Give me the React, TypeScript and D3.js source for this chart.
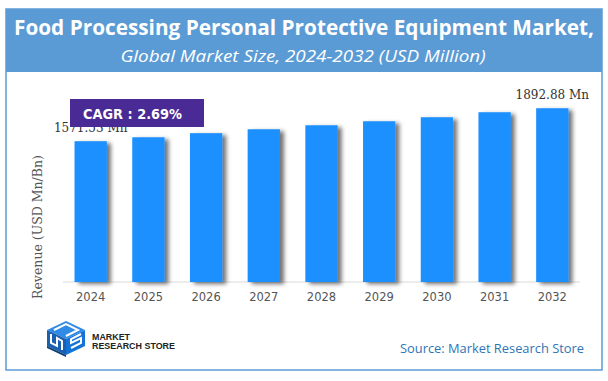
import React from 'react';
import * as d3 from 'd3';

const years = ['2024', '2025', '2026', '2027', '2028', '2029', '2030', '2031', '2032'];
const revenue = [1571.53, 1610, 1650, 1688, 1727, 1766, 1805, 1854, 1892.88];
const valueLabels = ['1571.53 Mn', '', '', '', '', '', '', '', '1892.88 Mn'];
const titleText = 'Food Processing Personal Protective Equipment Market,';
const subtitleText = 'Global Market Size, 2024-2032 (USD Million)';
const cagrText = 'CAGR :  2.69%';
const yAxisTitle = 'Revenue (USD Mn/Bn)';
const sourceText = 'Source: Market Research Store';

const W = 608;
const H = 381;

export default function App() {
  const x = d3.scaleBand<string>().domain(years).range([63, 580]).paddingInner(0.44).paddingOuter(0.2);
  const y = d3.scaleLinear().domain([200, 1900]).range([282, 107.5]);

  return (
    <svg width={W} height={H} style={{ position: 'absolute', left: 0, top: 0, background: '#fff' }}>
      <defs>
        <filter id="shadow" x="-20%" y="-10%" width="160%" height="130%">
          <feDropShadow dx="4" dy="2" stdDeviation="2" floodColor="#000" floodOpacity="0.55" />
        </filter>
        <linearGradient id="dashGrad" x1="0" x2="1" y1="0" y2="0">
          <stop offset="0" stopColor="#f08a3c" />
          <stop offset="0.35" stopColor="#f9c6a0" />
          <stop offset="0.7" stopColor="#f4a062" />
          <stop offset="1" stopColor="#f08a3c" />
        </linearGradient>
      </defs>
      <rect x={0} y={0} width={W} height={H} fill="#fff" />
      {/* frame */}
      <rect x={6} y={9} width={596} height={361} fill="#fff" stroke="#5b9bd5" strokeWidth={1.5} />
      <rect x={6} y={9} width={596} height={63} fill="#5b9bd5" />
      <text x={304} y={35} textAnchor="middle" fill="#fff" fontFamily="'Open Sans', 'Noto Sans', sans-serif" fontWeight="bold" fontSize={20.5} textLength={580} lengthAdjust="spacingAndGlyphs">{titleText}</text>
      <text x={303} y={62} textAnchor="middle" fill="#fff" fontFamily="'Open Sans', 'Noto Sans', sans-serif" fontStyle="italic" fontSize={16} textLength={365} lengthAdjust="spacingAndGlyphs">{subtitleText}</text>
      {/* dashed decorative line */}
      <line x1={42} x2={586} y1={79.5} y2={79.5} stroke="url(#dashGrad)" strokeWidth={1.2} strokeDasharray="3,2" />

      {/* axis line */}
      <line x1={63} x2={580} y1={282} y2={282} stroke="#d9d9d9" strokeWidth={1} />

      {/* bars */}
      {years.map((yr, i) => (
        <rect key={yr} x={x(yr)} y={y(revenue[i])} width={x.bandwidth()} height={282 - y(revenue[i])} fill="#1e90ff" filter="url(#shadow)" />
      ))}

      {/* x tick labels */}
      {years.map((yr) => (
        <text key={'t' + yr} x={(x(yr) as number) + x.bandwidth() / 2} y={301} textAnchor="middle" fill="#555" fontFamily="'DejaVu Sans', Verdana, sans-serif" fontSize={11.5}>{yr}</text>
      ))}

      {/* value labels */}
      {years.map((yr, i) => valueLabels[i] ? (
        <text key={'v' + yr} x={(x(yr) as number) + x.bandwidth() / 2} y={y(revenue[i]) - 9} textAnchor="middle" fill="#333" fontFamily="'DejaVu Serif', Georgia, serif" fontSize={12}>{valueLabels[i]}</text>
      ) : null)}

      {/* CAGR box */}
      <rect x={70} y={99} width={134} height={28} fill="#4a2a94" />
      <text x={83} y={119} fill="#fff" fontFamily="'DejaVu Sans', Tahoma, sans-serif" fontWeight="bold" fontSize={13.5} textLength={99} lengthAdjust="spacingAndGlyphs">{cagrText}</text>

      {/* y axis title */}
      <text transform="translate(42,227) rotate(-90)" textAnchor="middle" fill="#555" fontFamily="'DejaVu Serif', Georgia, serif" fontSize={12.5}>{yAxisTitle}</text>

      {/* logo */}
      <g>
        <polygon points="66,321 85,330 66,339 47,330" fill="#2f8be6" />
        <polygon points="47,330 66,339 66,355 47,346" fill="#1a5fb0" />
        <polygon points="66,339 85,330 85,346 66,355" fill="#1473d6" />
        <polyline points="54,330 66,324 78,330 66,336" fill="none" stroke="#fff" strokeWidth={2} />
        <polyline points="51,334 51,343 57,346 57,338 62,341 62,350" fill="none" stroke="#fff" strokeWidth={2} />
        <polyline points="81,334 71,339 71,343 81,338 81,343 71,348" fill="none" stroke="#fff" strokeWidth={2} />
        <polygon points="47,346 66,355 66,357 47,348" fill="#0d3d75" />
      </g>
      <text x={92} y={340} fill="#222" fontFamily="'Liberation Sans', Arial, sans-serif" fontWeight="bold" fontSize={9} textLength={38} lengthAdjust="spacingAndGlyphs">MARKET</text>
      <text x={92} y={348.5} fill="#222" fontFamily="'Liberation Sans', Arial, sans-serif" fontWeight="bold" fontSize={9} textLength={83} lengthAdjust="spacingAndGlyphs">RESEARCH STORE</text>

      {/* source */}
      <text x={584} y={353} textAnchor="end" fill="#2e75b6" fontFamily="'Open Sans', 'Noto Sans', sans-serif" fontSize={13.5} textLength={184} lengthAdjust="spacingAndGlyphs">{sourceText}</text>
    </svg>
  );
}
